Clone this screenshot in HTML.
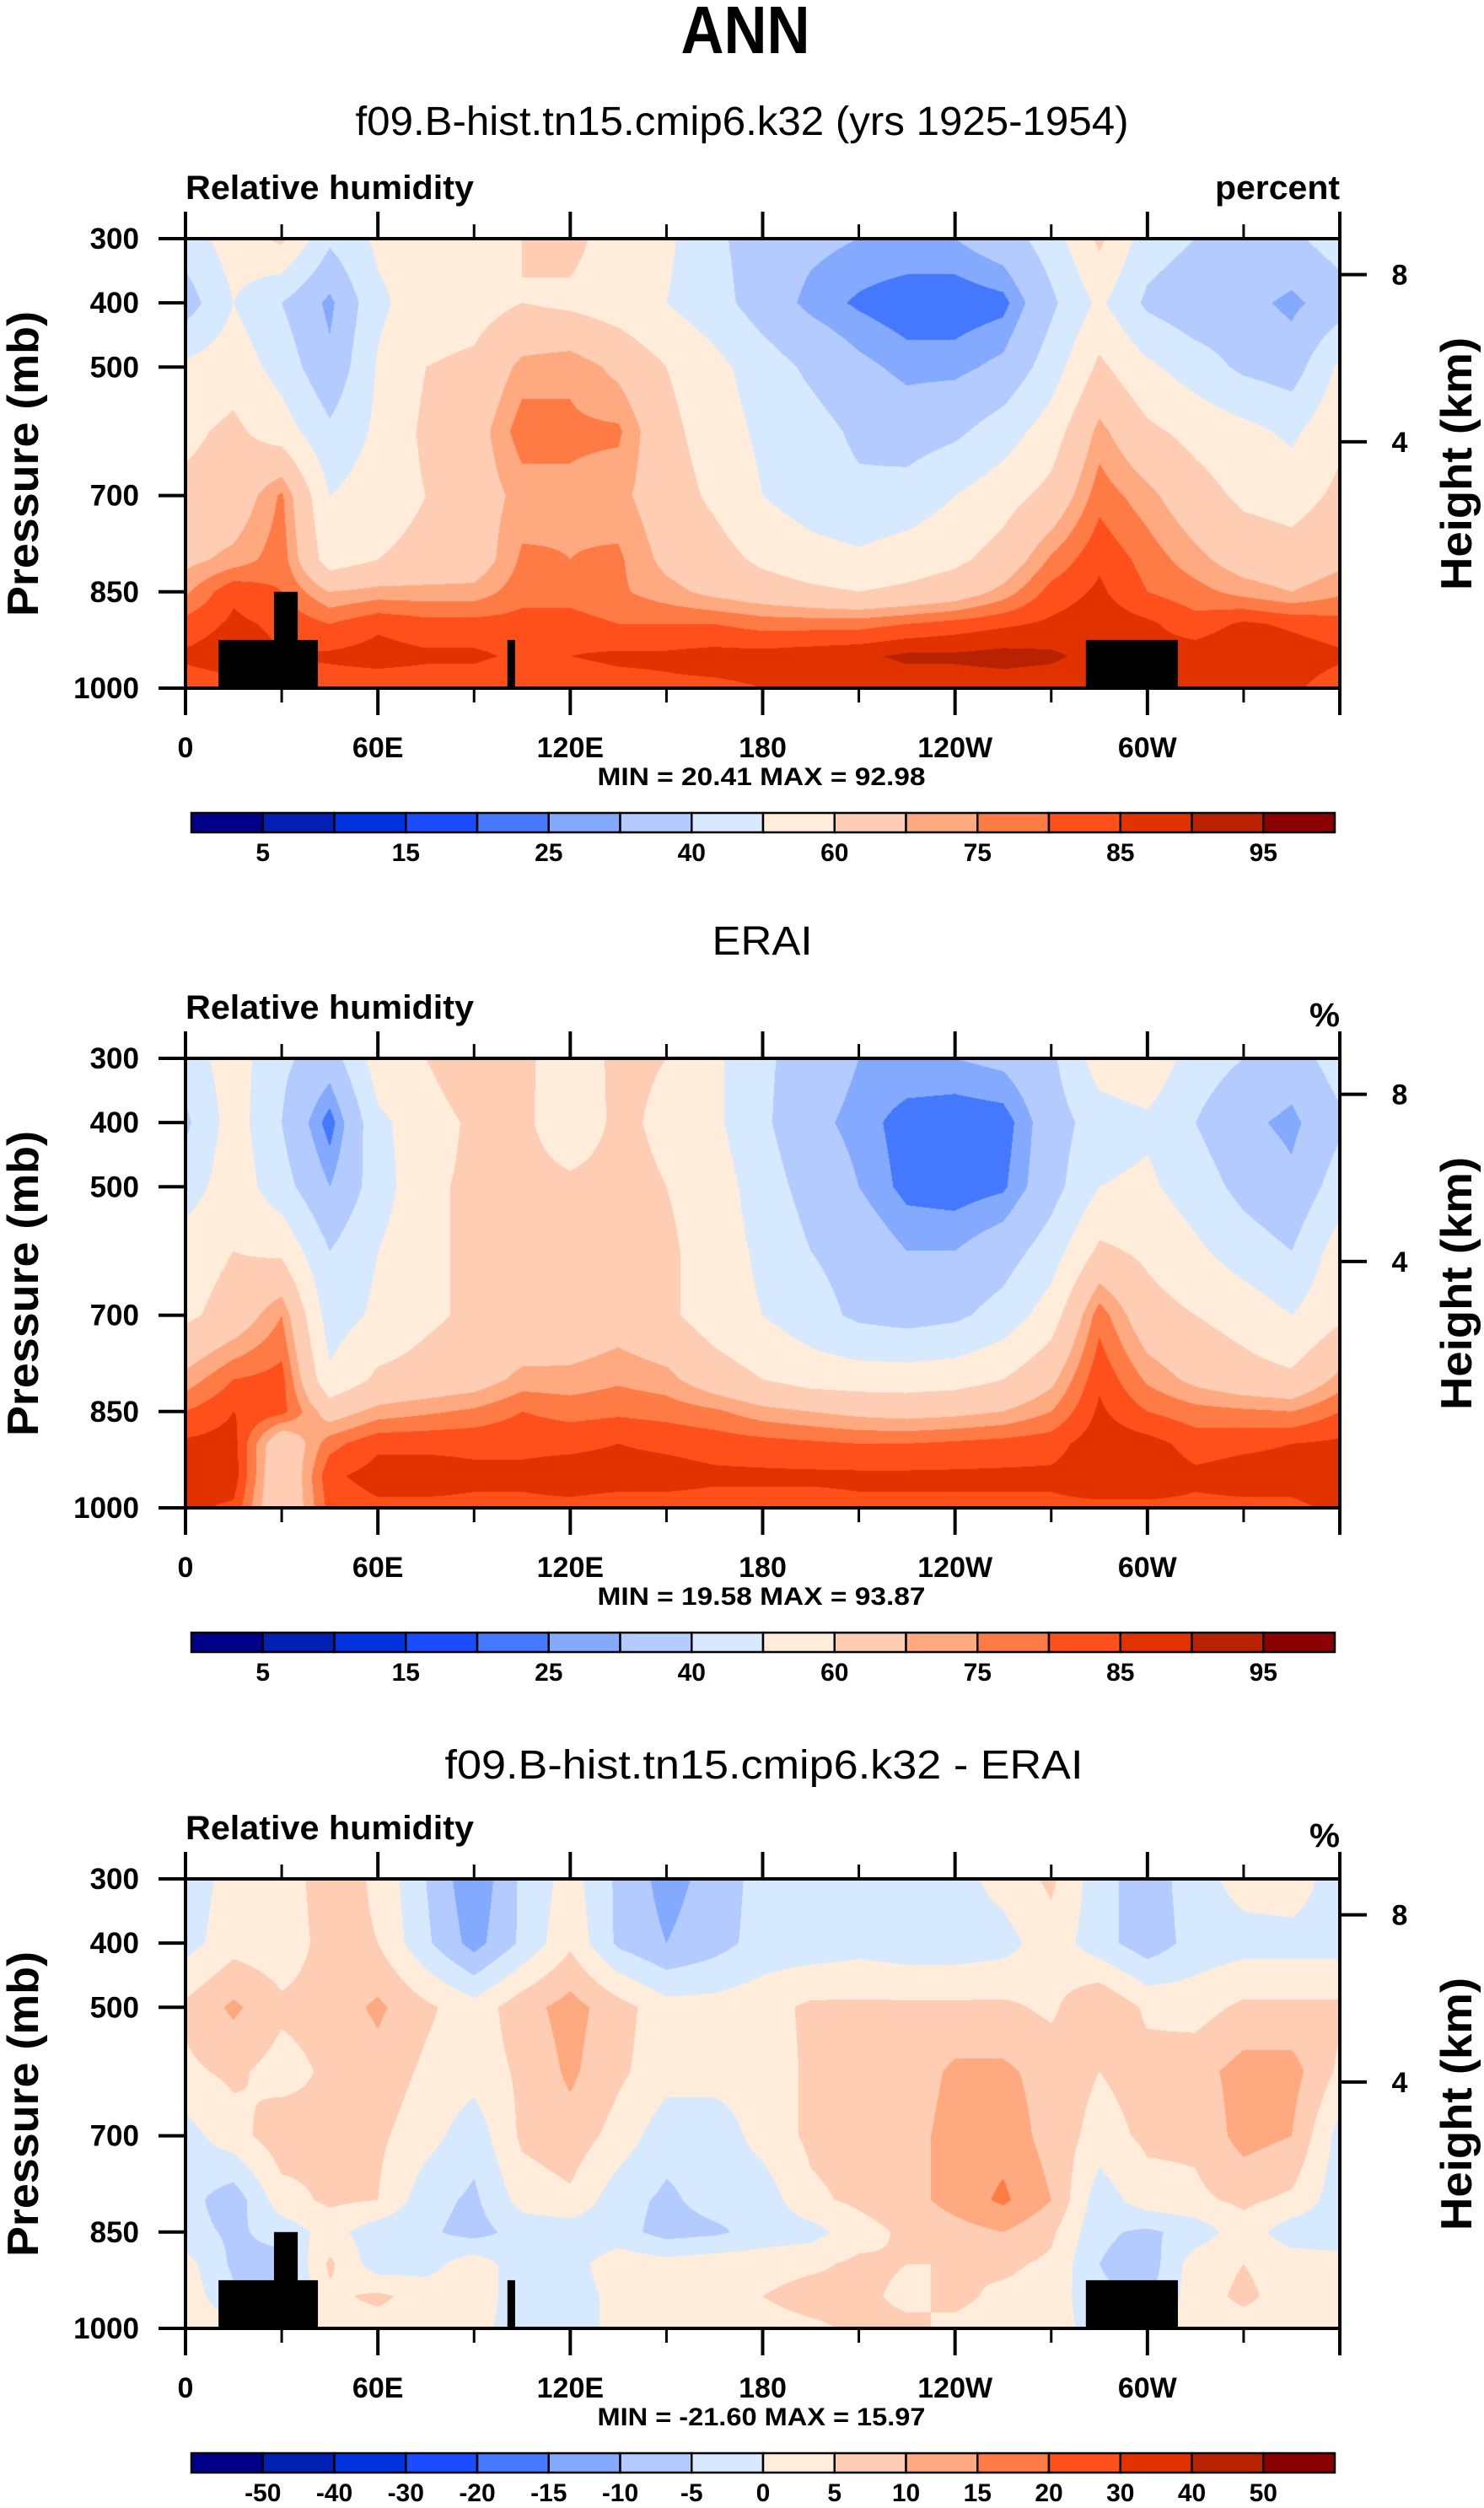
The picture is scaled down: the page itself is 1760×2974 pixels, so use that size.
<!DOCTYPE html>
<html><head><meta charset="utf-8">
<style>
html,body{margin:0;padding:0;background:#fff;}
#wrap{position:relative;width:1760px;height:2974px;overflow:hidden;background:#fff;}
canvas{position:absolute;}
svg{position:absolute;left:0;top:0;}
text{font-family:"Liberation Sans",Arial,sans-serif;fill:#000;}
.b{font-weight:bold;}
</style></head>
<body>
<div id="wrap">
<canvas id="c0" width="1369" height="533" style="left:220px;top:283px"></canvas>
<canvas id="c1" width="1369" height="533" style="left:220px;top:1255px"></canvas>
<canvas id="c2" width="1369" height="533" style="left:220px;top:2228px"></canvas>
<svg id="ov" width="1760" height="2974">
<text x="884" y="63" text-anchor="middle" class="b" font-size="80" textLength="153" lengthAdjust="spacingAndGlyphs">ANN</text>
</svg>
</div>
<script>
// ---- data ----
const lons = [0,15,30,45,60,75,90,105,120,135,150,165,180,195,210,225,240,255,270,285,300,315,330,345,360];
const pressures = [300,400,500,600,700,800,850,900,950,1000];
const rhModel = [
[45,55,62,42,52,55,55,60,63,55,52,42,35,32,30,30,30,35,45,62,45,40,40,38,45],
[35,50,40,28,48,55,56,60,58,55,50,44,35,28,24,21,21,23,38,52,38,33,33,28,35],
[52,56,46,32,51,60,62,72,74,68,60,53,45,38,32,28,28,32,45,62,52,45,38,35,52],
[58,62,55,42,52,62,66,78,76,76,63,55,48,44,38,35,38,45,55,72,62,57,53,48,58],
[62,64,76,50,55,60,66,72,74,72,65,58,50,45,42,44,50,56,63,78,72,64,58,56,62],
[68,72,78,55,60,63,65,76,75,76,68,64,58,54,52,55,58,64,76,84,78,72,66,64,68],
[74,84,80,70,72,72,72,78,78,76,72,68,65,62,60,62,65,72,82,86,80,77,73,70,74],
[82,86,84,80,84,82,82,82,82,80,80,80,78,78,78,80,82,84,86,88,86,82,86,84,82],
[86,88,85,86,87,86,86,84,85,86,86,87,87,88,89,91,91,92,91,88,87,88,90,88,86],
[82,83,82,82,82,82,82,80,82,83,84,84,85,86,86,87,87,87,87,86,86,85,86,86,82]];
const rhErai = [
[45,55,42,35,55,60,68,62,55,62,60,52,42,35,30,30,30,32,38,55,58,45,40,35,45],
[38,55,40,22,48,55,62,62,54,62,58,52,42,32,28,22,21,22,35,45,48,40,32,28,38],
[45,56,44,30,45,58,62,63,62,63,60,55,45,36,30,23,22,24,36,50,52,45,37,32,45],
[55,60,58,40,50,58,62,63,63,63,62,55,48,40,36,30,30,35,45,62,58,52,45,40,55],
[58,64,75,45,52,58,62,62,63,66,62,55,50,44,38,36,38,44,55,78,64,60,56,50,58],
[72,80,82,52,62,64,66,72,72,74,72,65,60,56,55,55,56,60,68,84,74,68,64,62,72],
[80,85,82,66,72,74,76,80,78,79,78,76,72,70,68,67,68,70,75,86,80,77,76,75,80],
[86,87,62,78,84,84,84,84,84,85,84,83,82,81,80,80,81,82,83,88,87,83,84,85,86],
[88,88,60,84,87,87,86,86,87,87,87,86,86,86,86,86,86,86,86,88,88,86,87,87,88],
[86,84,60,82,84,84,84,84,84,83,83,83,83,83,84,84,84,84,84,84,84,84,84,84,86]];
const rhDiff = [
[-3,2,2,8,4,-5,-14,-4,2,-6,-12,-8,-3,-3,-3,-3,-2,2,6,-3,-8,-2,2,3,-3],
[-2,3,2,7,5,-4,-12,-4,4,-6,-10,-7,-3,-3,-2,-3,-3,-2,3,-3,-8,-3,-2,-2,-2],
[6,11,6,7,11,6,2,8,12,7,2,2,3,6,6,6,6,6,4,10,4,3,6,6,6],
[4,6,3,6,8,4,2,6,11,6,2,2,2,6,7,7,11,11,8,5,7,8,12,12,4],
[-2,3,8,6,6,2,-3,6,8,3,-3,-3,2,6,7,8,12,13,8,3,6,6,12,10,-2],
[-3,-8,3,6,5,-3,-6,2,4,-3,-6,-3,-3,4,6,8,12,16,10,-3,3,4,6,4,-3],
[-3,-6,-3,2,-3,-4,-7,-3,-3,-3,-7,-6,-3,-2,3,6,8,10,6,-4,-6,-3,3,-3,-3],
[2,-6,-7,6,-3,-2,3,-3,-2,3,2,3,3,4,6,5,5,6,4,-5,-8,3,5,3,2],
[3,-4,-8,4,6,3,3,-3,-3,2,2,3,5,7,6,4,6,4,3,-4,-6,3,6,3,3],
[3,2,-3,3,3,3,2,-3,-3,2,2,2,3,4,6,6,4,3,3,-3,-3,3,3,3,3]];
const levelsAbs = [5,10,15,20,25,30,40,50,60,70,75,80,85,90,95];
const levelsDiff = [-50,-40,-30,-20,-15,-10,-5,0,5,10,15,20,30,40,50];
const fillColors = ["#00008a","#0021b3","#0033dd","#1b4cff","#4479ff","#84aaff","#b3cbff","#d6e9ff","#ffecdb","#ffcdb3","#ffa981","#ff7b45","#ff501b","#e23200","#b82200","#8b0000"];
const labelsAbs = ["5","15","25","40","60","75","85","95"];
const labelsDiff = ["-50","-40","-30","-20","-15","-10","-5","0","5","10","15","20","30","40","50"];
const xTickLabels = ["0","60E","120E","180","120W","60W"];
const yTickLabels = ["300","400","500","700","850","1000"];
const heightTicks = [8,4];
// topography masks: [lonStart, lonEnd, pressureTop]
const topoMask = [[10.3,41.3,925],[27.6,35,850],[100.4,102.8,925],[280.8,309.5,925]];
const panelTitles = ["f09.B-hist.tn15.cmip6.k32 (yrs 1925-1954)","ERAI","f09.B-hist.tn15.cmip6.k32 - ERAI"];
const unitsText = ["percent","%","%"];
const minText = ["20.41","19.58","-21.60"];
const maxText = ["92.98","93.87","15.97"];

// ---- layout ----
const PL=220, PW=1369, PH=533;
const panelTops=[283,1255,2228];
const NS="http://www.w3.org/2000/svg";
const ov=document.getElementById('ov');
function xS(lon){return PL+lon/360*PW;}
function yS(p,top){return top+(p-300)/700*PH;}
function pOfZ(z){return 1013.25*Math.pow(1-z/44.3308,1/0.190263);}
function mk(tag,attrs,parent){const e=document.createElementNS(NS,tag);for(const k in attrs)e.setAttribute(k,attrs[k]);(parent||ov).appendChild(e);return e;}
function colorIdx(v,lev){let i=0;while(i<lev.length&&v>=lev[i])i++;return i;}
function hex(c){return [parseInt(c.substr(1,2),16),parseInt(c.substr(3,2),16),parseInt(c.substr(5,2),16)];}
const rgb=fillColors.map(hex);

function drawField(id,grid,lev){
  const cv=document.getElementById(id),ctx=cv.getContext('2d');
  const img=ctx.createImageData(PW,PH),d=img.data;
  const nl=lons.length;
  for(let y=0;y<PH;y++){
    const p=300+(y+0.5)/PH*700;
    let j=0;while(j<pressures.length-2&&p>pressures[j+1])j++;
    const ty=Math.min(1,Math.max(0,(p-pressures[j])/(pressures[j+1]-pressures[j])));
    for(let x=0;x<PW;x++){
      const lon=(x+0.5)/PW*360;
      let i=0;while(i<nl-2&&lon>lons[i+1])i++;
      const tx=(lon-lons[i])/(lons[i+1]-lons[i]);
      const v=(grid[j][i]*(1-tx)+grid[j][i+1]*tx)*(1-ty)+(grid[j+1][i]*(1-tx)+grid[j+1][i+1]*tx)*ty;
      const c=rgb[colorIdx(v,lev)];const o=(y*PW+x)*4;
      d[o]=c[0];d[o+1]=c[1];d[o+2]=c[2];d[o+3]=255;
    }
  }
  ctx.putImageData(img,0,0);
}
drawField('c0',rhModel,levelsAbs);
drawField('c1',rhErai,levelsAbs);
drawField('c2',rhDiff,levelsDiff);

function txt(x,y,s,size,bold,anchor,name,len){
  const t=mk('text',{x:x,y:y,'font-size':size,'text-anchor':anchor||'middle'});
  if(bold)t.setAttribute('class','b');
  if(len){t.setAttribute('textLength',len);t.setAttribute('lengthAdjust','spacingAndGlyphs');}
  
  
  t.textContent=s;return t;
}
const titleLens=[917,119,757];
const titleBase=[160,160,164];
for(let k=0;k<3;k++){
  const T=panelTops[k], off=T-283;
  const g=mk('g',{});
  
  
  txt(880+(k===1?24:k===2?26:0),off+titleBase[k],panelTitles[k],48,false,'middle','panel-title',titleLens[k]);
  txt(PL,off+236,"Relative humidity",40,true,'start','variable-label',342);
  if(k===0) txt(PL+PW,off+236,unitsText[k],40,true,'end','units-label',148);
  else txt(PL+PW,off+245,unitsText[k],40,true,'end','units-label',36);
  // masks
  if(k!==1){
    topoMask.forEach(m=>{
      const r=mk('rect',{x:xS(m[0]),y:yS(m[2],T),width:xS(m[1])-xS(m[0]),height:yS(1000,T)-yS(m[2],T),fill:'#000'});
      
      
    });
  }
  // frame
  const fr=mk('rect',{x:PL,y:T,width:PW,height:PH,fill:'none',stroke:'#000','stroke-width':4});
  
  
  // x ticks
  for(let lon=0;lon<=360;lon+=30){
    const major=lon%60===0, L=major?32:17, x=xS(lon);
    const t1=mk('line',{x1:x,x2:x,y1:T,y2:T-L,stroke:'#000','stroke-width':major?4:3});
    
    
    const t2=mk('line',{x1:x,x2:x,y1:T+PH,y2:T+PH+L,stroke:'#000','stroke-width':major?4:3});
    
    
  }
  xTickLabels.forEach((s,i)=>txt(xS(i*60),off+898,s,34,true,'middle','x-tick-label'));
  // y ticks
  yTickLabels.forEach(s=>{
    const p=+s,y=yS(p,T);
    const l=mk('line',{x1:PL-32,x2:PL,y1:y,y2:y,stroke:'#000','stroke-width':4});
    
    
    txt(165,y+12,s,35,true,'end','y-tick-label');
  });
  heightTicks.forEach(z=>{
    const y=yS(pOfZ(z),T);
    const l=mk('line',{x1:PL+PW,x2:PL+PW+32,y1:y,y2:y,stroke:'#000','stroke-width':4});
    
    
    txt(1660,y+12,String(z),34,true,'middle','height-tick-label');
  });
  const yl=txt(0,0,"Pressure (mb)",52,true,'middle','y-axis-title',362);
  yl.setAttribute('transform','translate(45,'+(off+550)+') rotate(-90)');
  const hl=txt(0,0,"Height (km)",52,true,'middle','right-axis-title',300);
  hl.setAttribute('transform','translate(1745,'+(off+550)+') rotate(-90)');
  txt(903,off+931,"MIN = "+minText[k]+"  MAX = "+maxText[k],30,true,'middle','min-max-label',389);
  // colorbar
  const cbL=227,cbR=1583,cbT=off+964,cbH=23,n=16,bw=(cbR-cbL)/n;
  for(let i=0;i<n;i++){
    const r=mk('rect',{x:cbL+i*bw,y:cbT,width:bw,height:cbH,fill:fillColors[i],stroke:'#000','stroke-width':2.5});
    
    
  }
  if(k<2){
    labelsAbs.forEach((s,i)=>txt(cbL+(2*i+1)*bw,off+1021,s,30,true,'middle','colorbar-label'));
  } else {
    labelsDiff.forEach((s,i)=>txt(cbL+(i+1)*bw,off+1021,s,30,true,'middle','colorbar-label'));
  }
}
</script>
</body></html>
